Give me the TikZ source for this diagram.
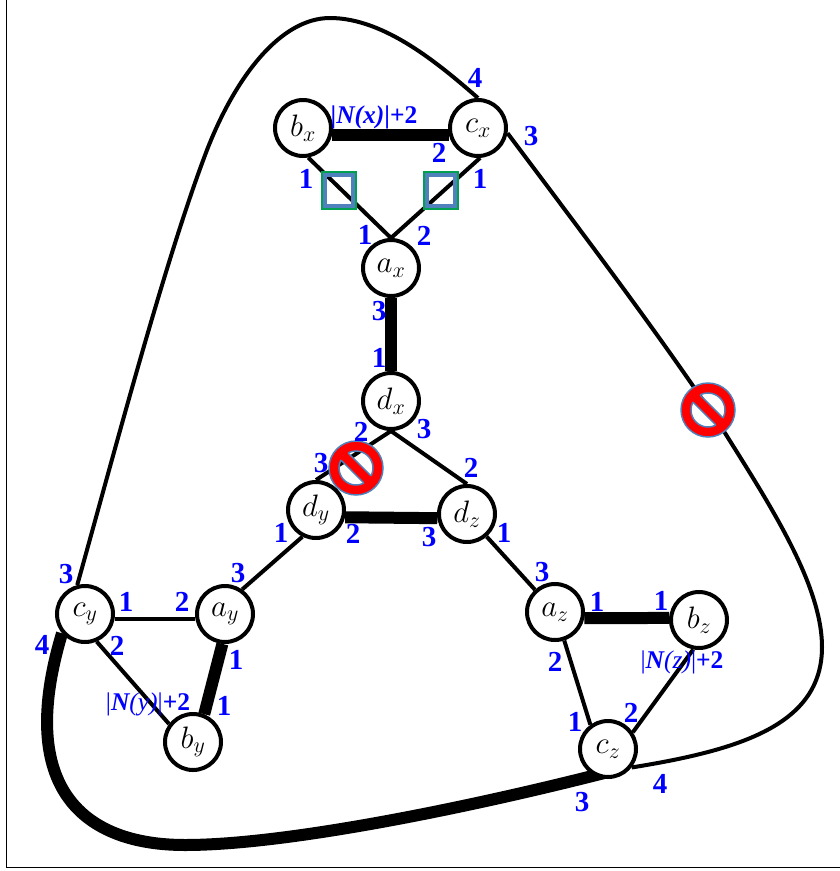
\documentclass[tikz,border=0pt]{standalone}
\usepackage{fix-cm}
\usepackage{fontspec}
\setmainfont{Liberation Serif}
\usepackage{tikz}
\usetikzlibrary{backgrounds}

\DeclareMathSizes{31}{31}{22}{17}

\definecolor{portblue}{RGB}{0,0,255}
\definecolor{ringblue}{RGB}{79,129,189}
\definecolor{boxgreen}{RGB}{0,160,80}

\tikzset{
every picture/.style={
line width=4pt
},
vertex/.style = {circle, draw=black, fill=white, line width=4pt, minimum size=56pt, inner sep=0pt, font=\fontsize{31}{31}\selectfont},
port/.style = {text=portblue, inner sep=0pt, font=\bfseries\fontsize{29}{29}\selectfont},
degree/.style = {text=portblue, inner sep=0pt, font=\fontsize{25.5}{26}\selectfont},
heavy/.style = {line width=12pt},
marked/.style = {rectangle, draw=ringblue, line width=5pt, minimum width=29pt, minimum height=32pt, inner sep=0pt},
nosign/.pic = {
\fill [red, even odd rule] (0,0) circle (27pt) (0,0) circle (17pt);
\draw [ringblue, line width=1.5pt] (0,0) circle (27pt) (0,0) circle (17pt);
\begin{scope}[rotate=-45]
\fill [red] (-18pt,-5pt) rectangle (18pt,5pt);
\draw [ringblue, line width=1.5pt] (-16pt,-5pt) -- (16pt,-5pt) (-16pt,5pt) -- (16pt,5pt);
\end{scope}
}
}

\begin{document}
\begin{tikzpicture}[x=1pt, y=-1pt]

\useasboundingbox (0,0) rectangle (840,871);
\draw [line width=1.2pt] (6.5,-5) -- (6.5,867.5) -- (845,867.5);

% gadget x
\node [vertex] (bx) at (303,128) {$b_x$};
\node [vertex] (cx) at (478,128) {$c_x$};
\node [vertex] (ax) at (391,268) {$a_x$};
\node [vertex] (dx) at (391,401) {$d_x$};

% gadget y
\node [vertex] (dy) at (316,510) {$d_y$};
\node [vertex] (ay) at (225,614) {$a_y$};
\node [vertex] (cy) at (85,614) {$c_y$};
\node [vertex] (by) at (193,742) {$b_y$};

% gadget z
\node [vertex] (dz) at (467,514) {$d_z$};
\node [vertex] (az) at (555,612) {$a_z$};
\node [vertex] (bz) at (699,620) {$b_z$};
\node [vertex] (cz) at (608,749) {$c_z$};

\draw [heavy] (bx.-14) -- (cx.194);
\draw (bx.-80) -- (ax.north);
\draw (cx.-86) -- (ax.north);
\draw [heavy] (ax) -- (dx);
\draw (dx.south) -- (dy.north);
\draw (dx.south) -- (dz.north);
\draw [heavy] (dy.-14) -- (dz.188);
\draw (dy.-117) -- (ay.55);
\draw (dz.-49) -- (az.132);
\draw (cy.-10) -- (ay.190);
\draw (cy.-67) -- (by.143);
\draw [heavy] (ay.-95) -- (by.68);
\draw [heavy] (az.-12) -- (bz.176);
\draw (az.-72) -- (cz.126);
\draw (bz.-101) -- (cz.34);

% the long way round
\draw (cy.105) .. controls (115,450) and (165,260) .. (207,150)
.. controls (235,78) and (280,18) .. (330,18)
.. controls (385,18) and (440,65) .. (cx.north);
\draw (cx.-10) .. controls (580,230) and (660,335) .. (725,433)
.. controls (770,505) and (822,585) .. (822,647)
.. controls (822,725) and (740,750) .. (cz.-38);
\begin{scope}[on background layer]
\draw [heavy] ([shift={(4,22)}]cz.center) .. controls (480,805) and (290,845) .. (185,845)
.. controls (85,845) and (15,790) .. (cy.-140);
\end{scope}

\node [marked] (sqb) at (339,190.5) {};
\node [marked] (sqc) at (441,190.5) {};
\draw [boxgreen, line width=2.5pt] (sqb.north west) rectangle (sqb.south east);
\draw [boxgreen, line width=2.5pt] (sqc.north west) rectangle (sqc.south east);

\pic at (708,410) {nosign};
\pic at (356,468) {nosign};

% port numbers
\foreach \px/\py/\num in {475/78/4, 531/136/3, 439/153/2, 480/179/1, 306/179/1, 365/235/1, 424/236/2,
379/311/3, 379/358/1, 361/432/2, 424/429/3, 321/463/3, 471/468/2, 281/533/1, 353/534/2, 429/537/3, 504/533/1,
66/574/3, 126/602/1, 182/602/2, 238/573/3, 42/645/4, 117/646/2, 236/660/1, 224/706/1,
542/572/3, 597/602/1, 661/601/1, 555/662/2, 575/722/1, 631/713/2, 582/802/3, 660/784/4}
  \node [port] at (\px,\py) {\num};

\node [degree] (degx) at (374,117) {\textbf{|\textit{N(x)}|+2}};
\node [degree] (degy) at (148,704) {|\textit{\textbf{N}(y)}|\textbf{+2}};
\node [degree] (degz) at (682,662) {|\textit{\textbf{N}(z)}|\textbf{+2}};

\end{tikzpicture}
\end{document}
